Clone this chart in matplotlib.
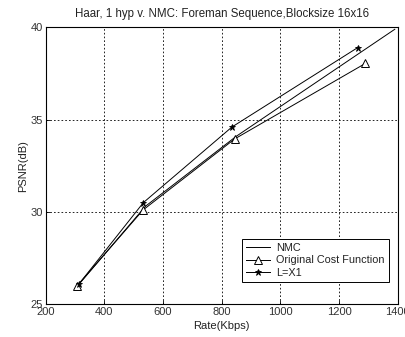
import matplotlib
matplotlib.use("Agg")
import matplotlib.pyplot as plt

plt.rcParams['font.family'] = ['Liberation Sans', 'DejaVu Sans']

nmc_rate = [315, 540, 850, 1390]
nmc_psnr = [26.1, 30.3, 34.1, 39.9]
orig_rate = [308, 532, 844, 1290]
orig_psnr = [26.0, 30.1, 33.95, 38.05]
l1_rate = [314, 533, 835, 1263]
l1_psnr = [26.1, 30.5, 34.6, 38.9]

xticks = [200, 400, 600, 800, 1000, 1200, 1400]
yticks = [25, 30, 35, 40]

fig = plt.figure(figsize=(4.06, 3.37), dpi=100)
ax = fig.add_axes([0.1126, 0.098, 0.867, 0.8206])

lw = 0.7
ax.plot(nmc_rate, nmc_psnr, '-', color='black', lw=lw, label='NMC')
ax.plot(orig_rate, orig_psnr, '-', color='black', lw=lw, marker='^',
        markersize=5.5, markerfacecolor='white', markeredgewidth=0.7,
        label='Original Cost Function')
ax.plot(l1_rate, l1_psnr, '-', color='black', lw=lw, marker='*',
        markersize=4.5, markeredgewidth=0.6, label='L=X1')

ax.set_xlim(200, 1400)
ax.set_ylim(25, 40)
ax.set_xticks(xticks)
ax.set_yticks(yticks)
ax.set_xticklabels([str(t) for t in xticks])
ax.set_yticklabels([str(t) for t in yticks])
ax.tick_params(direction='in', labelsize=8, length=3, width=0.6, pad=2,
               labelcolor='#333333')
ax.grid(True, linestyle=(0, (2, 2.5)), color='black', linewidth=0.6)
for s in ax.spines.values():
    s.set_linewidth(0.8)

ax.set_xlabel('Rate(Kbps)', fontsize=8, labelpad=3, color='#222222')
ax.set_ylabel('PSNR(dB)', fontsize=8, labelpad=2, color='#222222')
ax.set_title('Haar, 1 hyp v. NMC: Foreman Sequence,Blocksize 16x16', fontsize=8.3,
             pad=7.5, color='#222222')

leg = ax.legend(loc='lower right', bbox_to_anchor=(0.99, 0.06), fontsize=7.8,
                frameon=True, fancybox=False, edgecolor='black', framealpha=1,
                handlelength=2.2, handletextpad=0.6, borderpad=0.35, labelspacing=0.25)
leg.get_frame().set_linewidth(0.7)
for t in leg.get_texts():
    t.set_color('#222222')

fig.savefig('out.png', dpi=100)
